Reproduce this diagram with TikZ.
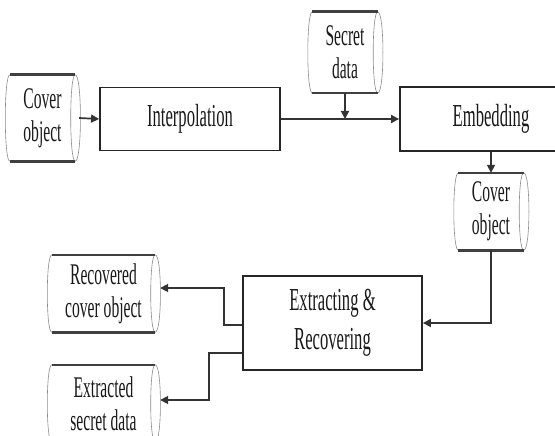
\documentclass[tikz,border=0pt]{standalone}
\usepackage{fontspec}
\setmainfont{Liberation Serif}[FakeStretch=0.52]
\usetikzlibrary{arrows.meta}
\newcommand\bigtxt{\fontsize{32}{39}\selectfont}
\newcommand\smalltxt{\fontsize{30}{33}\selectfont}
\newcommand\storagedraw[1]{%
  \draw[storeside] (#1.north west) .. controls ([xshift=-6pt]#1.north west) and ([xshift=-6pt]#1.south west) .. (#1.south west);
  \draw[storeside] (#1.north east) .. controls ([xshift=7pt]#1.north east) and ([xshift=7pt]#1.south east) .. (#1.south east)
     .. controls ([xshift=-6pt]#1.south east) and ([xshift=-6pt]#1.north east) .. (#1.north east);
  \draw[storeedge] (#1.north west) -- (#1.north east);
  \draw[storeedge] (#1.south west) -- (#1.south east);
}
\begin{document}
\begin{tikzpicture}[x=1pt,y=-1pt,
  proc/.style={draw=black!85, line width=1.8pt, inner sep=0pt, align=center, font=\bigtxt, text=black!90},
  store/.style={inner sep=0pt, align=center, font=\smalltxt, text=black!90},
  storeedge/.style={draw=black!75, line width=2.6pt},
  storeside/.style={draw=black!45, line width=0.6pt},
  conn/.style={draw=black!80, line width=1.7pt, -{Triangle[length=8pt,width=8pt]}}]
\clip (0,0) rectangle (555,436);
\fill[white] (0,0) rectangle (555,436);

\node[store, minimum width=65pt, minimum height=86pt] (co1) at (42.5,118) {Cover\\object};
\node[proc, minimum width=180pt, minimum height=63pt] (interp) at (190,119) {Interpolation};
\node[store, minimum width=65pt, minimum height=81pt] (sec) at (345,52.5) {Secret\\data};
\node[proc, minimum width=182pt, minimum height=64pt] (emb) at (491,119) {Embedding};
\node[store, minimum width=65pt, minimum height=77pt] (co2) at (491,211.5) {Cover\\object};
\node[proc, minimum width=179pt, minimum height=94pt] (er) at (332.5,323) {Extracting \&\\Recovering};
\node[store, minimum width=103pt, minimum height=77pt] (rec) at (103.5,293.5) {Recovered\\cover object};
\node[store, minimum width=103pt, minimum height=77pt] (ext) at (103.5,403.5) {Extracted\\secret data};

\storagedraw{co1}
\storagedraw{sec}
\storagedraw{co2}
\storagedraw{rec}
\storagedraw{ext}

\draw[conn] ([xshift=4pt]co1.east) -- (interp.west);
\draw[conn] (interp.east) -- (emb.west);
\draw[conn] (sec.south) -- (sec.south |- interp.east);
\draw[conn] (emb.south) -- (emb.south |- co2.north);
\draw[conn] (co2.south) |- (er.east);
\draw[conn] ([yshift=-2pt]er.west) -- ++(-18,0) |- ([xshift=5pt,yshift=5.5pt]rec.east);
\draw[conn] ([yshift=-30pt]er.west) -- ++(-33,0) |- ([xshift=5pt,yshift=3.5pt]ext.east);
\end{tikzpicture}
\end{document}
